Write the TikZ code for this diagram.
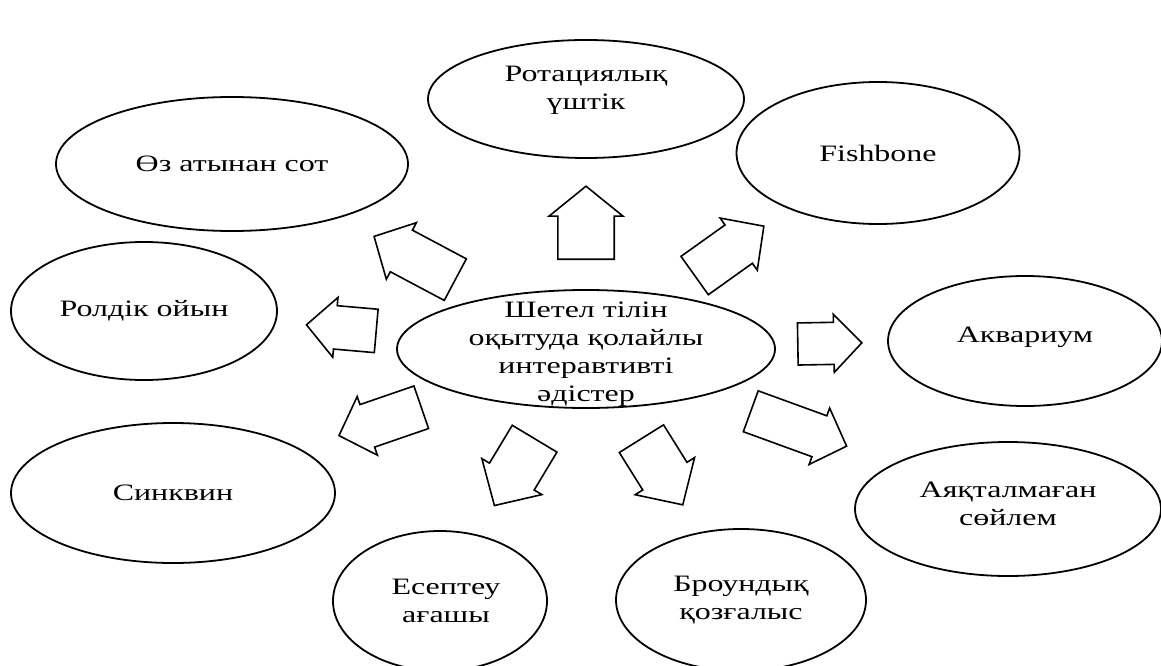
\documentclass[tikz,border=0pt]{standalone}
\usepackage{fontspec}
\setmainfont{Liberation Serif}[FakeStretch=1.36]
\usetikzlibrary{shapes.geometric,shapes.arrows}

\begin{document}
\begin{tikzpicture}[x=1pt,y=-1pt,
    meth/.style={draw,ellipse,line width=1.8pt,inner sep=0pt},
    txt/.style={align=center,inner sep=0pt,font=\fontsize{23.5}{28}\selectfont},
    blk/.style={draw,single arrow,line width=1.6pt,inner xsep=0pt,inner ysep=19pt,anchor=tail,
        minimum width=64,single arrow tip angle=92}
]
\useasboundingbox (0,0) rectangle (1161,666);
% ellipses
\node[meth,minimum width=378,minimum height=118] (centre) at (586,349) {};
\node[txt,yshift=-5pt] (centretxt) at (centre) {Шетел тілін\\оқытуда қолайлы\\интеравтивті\\әдістер};
\node[meth,minimum width=316,minimum height=118] (rot) at (586,99) {};
\node[txt,yshift=9pt] (rottxt) at (rot) {Ротациялық\\үштік};
\node[meth,minimum width=352,minimum height=134] (oz) at (232,164) {};
\node[txt] (oztxt) at (oz) {Өз атынан сот};
\node[meth,minimum width=283,minimum height=142] (fish) at (878,153) {};
\node[txt] (fishtxt) at (fish) {Fishbone};
\node[meth,minimum width=266,minimum height=138] (rol) at (144,311) {};
\node[txt] (roltxt) at (rol) {Ролдік ойын};
\node[meth,minimum width=274,minimum height=130] (akv) at (1025,341) {};
\node[txt,yshift=4pt] (akvtxt) at (akv) {Аквариум};
\node[meth,minimum width=324,minimum height=140] (sink) at (173,493) {};
\node[txt] (sinktxt) at (sink) {Синквин};
\node[meth,minimum width=306,minimum height=134] (ayak) at (1008,509) {};
\node[txt,yshift=5pt] (ayaktxt) at (ayak) {Аяқталмаған\\сөйлем};
\node[meth,minimum width=214,minimum height=140] (esep) at (440,601) {};
\node[txt,xshift=6pt] (eseptxt) at (esep) {Есептеу\\ағашы};
\node[meth,minimum width=250,minimum height=142] (broun) at (741,600) {};
\node[txt] (brountxt) at (broun) {Броундық\\қозғалыс};
% block arrows
\node[blk,minimum height=73,minimum width=74,inner ysep=22pt,
    single arrow tip angle=102,rotate=90] (arot) at (586,260) {};
\node[blk,minimum height=92,rotate=152] (aoz) at (456,280) {};
\node[blk,minimum height=70,minimum width=60,inner ysep=18pt,rotate=175] (arol) at (377,331) {};
\node[blk,minimum height=85,rotate=35.5] (afish) at (694,276) {};
\node[blk,minimum height=64,minimum width=58,inner ysep=18pt,rotate=1] (aakv) at (797,344) {};
\node[blk,minimum height=87,minimum width=62,inner ysep=18pt,rotate=199] (asink) at (422,407) {};
\node[blk,minimum height=102,minimum width=60,inner ysep=18pt,rotate=-20] (aayak) at (750,411) {};
\node[blk,minimum height=78,minimum width=70,inner ysep=20pt,rotate=239] (aesep) at (535,438) {};
\node[blk,minimum height=78,minimum width=70,inner ysep=20pt,rotate=-58] (abroun) at (641,438) {};
\end{tikzpicture}
\end{document}
